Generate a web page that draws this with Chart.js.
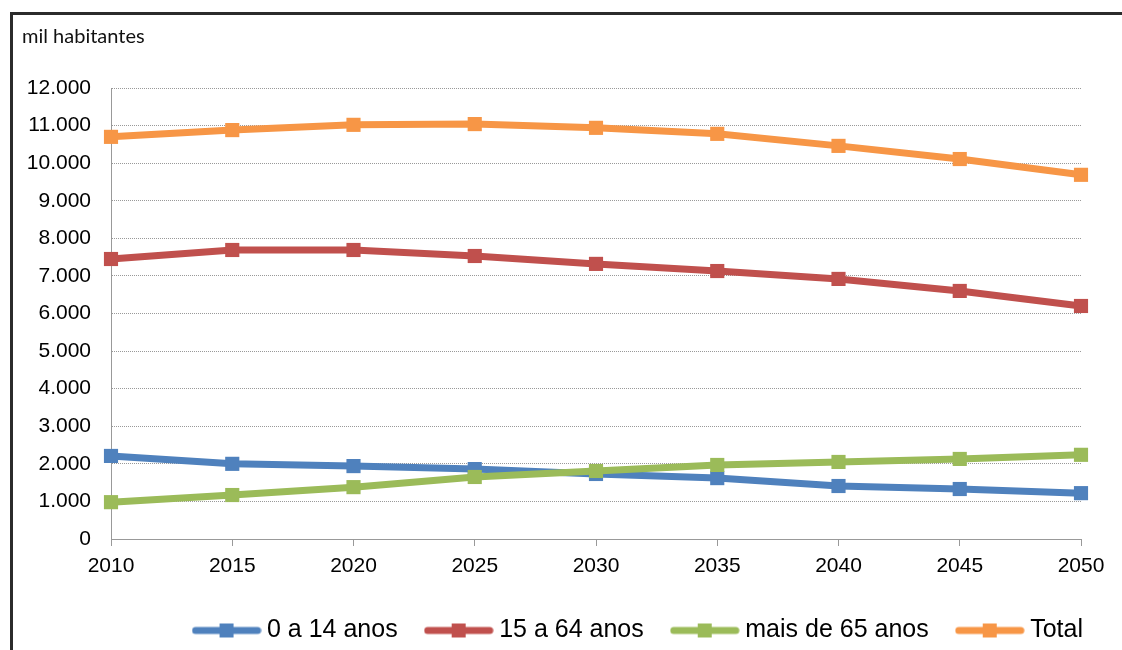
<!DOCTYPE html>
<html>
<head>
<meta charset="utf-8">
<script src="https://cdn.jsdelivr.net/npm/chart.js@4"></script>
<style>
  body { margin: 0; background: #fff; overflow: hidden; }
  .frame { position: absolute; left: 10px; top: 12px; width: 1200px; height: 700px;
           border-top: 3px solid #2b2b2b; border-left: 3px solid #2b2b2b; }
  #chart { position: absolute; left: 0; top: 0; }
</style>
</head>
<body>
<div class="frame"></div>
<canvas id="chart" width="1122" height="650"></canvas>
<script>
const years = ['2010', '2015', '2020', '2025', '2030', '2035', '2040', '2045', '2050'];
const young = [2210, 2000, 1940, 1860, 1730, 1620, 1410, 1330, 1220];
const working = [7450, 7690, 7690, 7530, 7320, 7130, 6920, 6600, 6200];
const elderly = [980, 1170, 1380, 1650, 1810, 1970, 2050, 2130, 2240];
const total = [10700, 10880, 11020, 11040, 10940, 10780, 10460, 10110, 9690];
const seriesNames = ['0 a 14 anos', '15 a 64 anos', 'mais de 65 anos', 'Total'];
const colors = ['#4f81bd', '#c0504d', '#9bbb59', '#f79646'];
const unitLabel = 'mil habitantes';

// legend symbol: thick line with a square in the middle
function legendSymbol(color) {
  const c = document.createElement('canvas');
  c.width = 70; c.height = 16;
  const g = c.getContext('2d');
  g.strokeStyle = color;
  g.lineWidth = 7;
  g.lineCap = 'round';
  g.beginPath(); g.moveTo(4, 8); g.lineTo(66, 8); g.stroke();
  g.fillStyle = color;
  g.fillRect(28, 1, 14, 14);
  return c;
}

function makeSet(i, data, order) {
  return {
    label: seriesNames[i],
    data: data,
    borderColor: colors[i],
    backgroundColor: colors[i],
    borderWidth: 7,
    pointStyle: 'rect',
    pointRadius: 10,
    pointBorderWidth: 0,
    tension: 0,
    order: order
  };
}

const fmt = v => v.toString().replace(/\B(?=(\d{3})+(?!\d))/g, '.');

const extras = {
  id: 'extras',
  afterLayout(chart) {
    const lg = chart.legend;
    const w = lg.right - lg.left;
    lg.right = chart.chartArea.right + 35;
    lg.left = lg.right - w;
  },
  afterDraw(chart) {
    const ctx = chart.ctx;
    ctx.save();
    ctx.font = '20px Lato';
    ctx.fillStyle = '#111';
    ctx.textBaseline = 'middle';
    ctx.fillText(unitLabel, 22, 37);
    ctx.restore();
  }
};

new Chart(document.getElementById('chart'), {
  type: 'line',
  data: {
    labels: years,
    datasets: [
      makeSet(0, young, 4),
      makeSet(1, working, 3),
      makeSet(2, elderly, 2),
      makeSet(3, total, 1)
    ]
  },
  options: {
    responsive: false,
    animation: false,
    devicePixelRatio: 1,
    layout: { padding: { top: 88, right: 41, bottom: -3, left: 0 } },
    plugins: {
      tooltip: { enabled: false },
      legend: {
        position: 'bottom',
        align: 'end',
        labels: {
          font: { family: 'Liberation Sans', size: 25 },
          color: '#000',
          usePointStyle: true,
          pointStyleWidth: 56,
          padding: 33,
          sort: (a, b) => a.datasetIndex - b.datasetIndex,
          generateLabels(chart) {
            const items = Chart.defaults.plugins.legend.labels.generateLabels(chart);
            items.forEach(it => { it.pointStyle = legendSymbol(colors[it.datasetIndex]); });
            return items;
          }
        }
      }
    },
    scales: {
      x: {
        offset: false,
        afterFit(scale) { scale.height = 46; },
        grid: { drawOnChartArea: false, drawTicks: true, tickLength: 7, color: '#999' },
        border: { color: '#999', width: 1 },
        ticks: { color: '#000', padding: 8, maxRotation: 0,
                 font: { family: 'Liberation Sans', size: 21 } }
      },
      y: {
        min: 0,
        max: 12000,
        afterFit(scale) { scale.width = 111; },
        grid: { color: '#999', drawTicks: false },
        border: { color: '#999', width: 1, dash: [1, 1] },
        ticks: { stepSize: 1000, padding: 20, color: '#000', callback: v => fmt(v),
                 font: { family: 'Liberation Sans', size: 21 } }
      }
    }
  },
  plugins: [extras]
});
</script>
</body>
</html>
